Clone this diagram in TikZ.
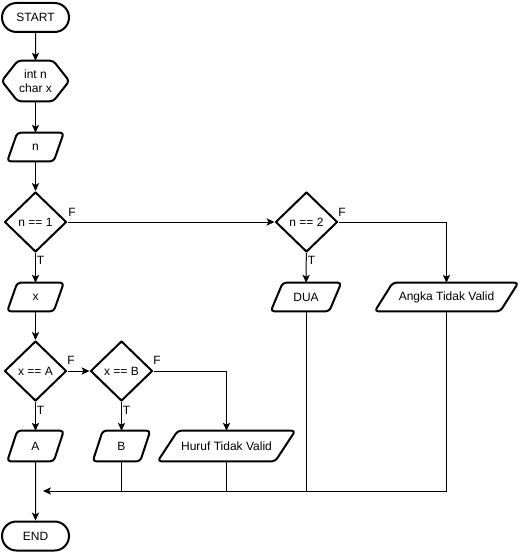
\documentclass[tikz,border=0pt]{standalone}
\usepackage{fontspec}
\setmainfont{Liberation Sans}
\usetikzlibrary{shapes.geometric,shapes.misc,arrows.meta}
\newcommand\paral[2]{\draw[shapeline] ([xshift=#2]#1.north west) -- (#1.north east) -- ([xshift=-#2]#1.south east) -- (#1.south west) -- cycle;}
\newcommand\hexa[2]{\draw[shapeline] ([xshift=#2]#1.north west) -- ([xshift=-#2]#1.north east) -- (#1.east) -- ([xshift=-#2]#1.south east) -- ([xshift=#2]#1.south west) -- (#1.west) -- cycle;}
\begin{document}
\begin{tikzpicture}[x=0.75pt,y=-0.75pt,
  font=\fontsize{9pt}{10.5pt}\selectfont,
  shapeline/.style={line width=1.5pt,rounded corners=2.5pt,line join=round},
  term/.style={rounded rectangle,draw,line width=1.5pt,minimum width=50.25pt,minimum height=21.75pt,inner sep=0pt},
  box/.style={inner sep=0pt,align=center},
  dec/.style={diamond,draw,line width=1.5pt,line join=round,minimum width=46.5pt,minimum height=45pt,inner sep=0pt},
  conn/.style={line width=0.75pt,-{Stealth[length=6pt,width=5.5pt,inset=1.5pt]}},
  plain/.style={line width=0.75pt},
  lbl/.style={inner sep=0pt}]
\useasboundingbox (0,0) rectangle (522,552);
% nodes
\node[term] (start) at (35.5,17.5) {START};
\node[box,minimum width=50.25pt,minimum height=30pt] (decl) at (35.5,81) {int n\\char x};
\hexa{decl}{12pt}
\node[box,minimum width=42pt,minimum height=21pt] (inn) at (35.5,147) {n};
\paral{inn}{7.5pt}
\node[dec] (n1) at (35.5,222) {n == 1};
\node[box,minimum width=42pt,minimum height=21pt] (inx) at (35.5,297) {x};
\paral{inx}{7.5pt}
\node[dec] (xa) at (35.5,371) {x == A};
\node[dec] (xb) at (121.5,371) {x == B};
\node[box,minimum width=42pt,minimum height=22.5pt] (outa) at (35.5,446) {A};
\paral{outa}{7.5pt}
\node[box,minimum width=42.75pt,minimum height=22.5pt] (outb) at (121.5,446) {B};
\paral{outb}{7.5pt}
\node[box,minimum width=102.75pt,minimum height=22.5pt] (huruf) at (226.5,446) {Huruf Tidak Valid};
\paral{huruf}{15pt}
\node[term] (end) at (35.5,536) {END};
\node[dec] (n2) at (306.5,222) {n == 2};
\node[box,minimum width=52.5pt,minimum height=21pt] (dua) at (306,297) {DUA};
\paral{dua}{9pt}
\node[box,minimum width=107.25pt,minimum height=21pt] (angka) at (446.5,297) {Angka Tidak Valid};
\paral{angka}{13.5pt}
\coordinate (merge) at (43,491);
% connectors
\draw[conn] (start) -- (decl);
\draw[conn] (decl) -- (inn);
\draw[conn] (inn) -- (n1);
\draw[conn] (n1) -- (inx);
\draw[conn] (n1) -- (n2);
\draw[conn] (inx) -- (xa);
\draw[conn] (xa) -- (outa);
\draw[conn] (xa) -- (xb);
\draw[conn] (xb) -- (outb);
\draw[conn] (xb.east) -| (huruf.north);
\draw[conn] (n2) -- (dua);
\draw[conn] (n2.east) -| (angka.north);
\draw[conn] (outa) -- (end);
\draw[conn] (angka.south) |- (merge);
\draw[plain] (dua.south) -- (dua.south |- merge);
\draw[plain] (huruf.south) -- (huruf.south |- merge);
\draw[plain] (outb.south) -- (outb.south |- merge);
% labels
\node[lbl] (f1) at (72,212) {F};
\node[lbl] (t1) at (40.5,260) {T};
\node[lbl] (f2) at (342,212) {F};
\node[lbl] (t2) at (311.5,260) {T};
\node[lbl] (f3) at (71,360) {F};
\node[lbl] (t3) at (40.5,410) {T};
\node[lbl] (f4) at (157,360) {F};
\node[lbl] (t4) at (126.5,410) {T};
\end{tikzpicture}
\end{document}
